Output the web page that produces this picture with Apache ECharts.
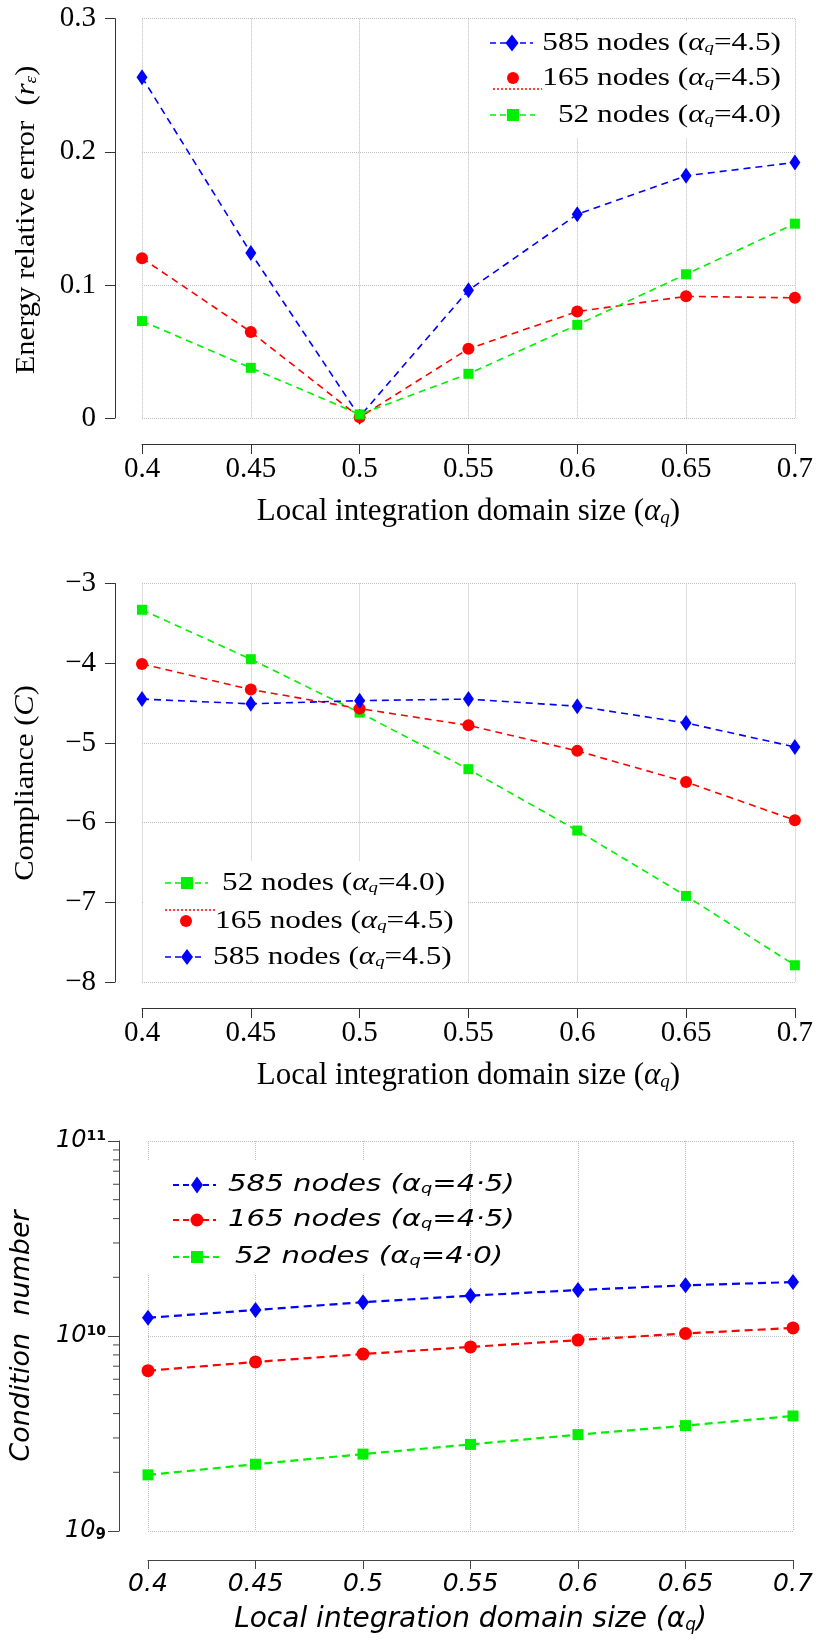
<!DOCTYPE html>
<html><head><meta charset="utf-8">
<script src="https://cdn.jsdelivr.net/npm/echarts@6/dist/echarts.min.js"></script>
<style>html,body{margin:0;padding:0;background:#fff}#c{width:816px;height:1640px}</style>
</head><body><div id="c"></div>
<script>
// ---------- data ----------
const xValues = [0.4, 0.45, 0.5, 0.55, 0.6, 0.65, 0.7];
const xTickLabels = ['0.4', '0.45', '0.5', '0.55', '0.6', '0.65', '0.7'];

// Panel 1: energy relative error
const err585 = [0.256, 0.124, 0.001, 0.096, 0.153, 0.182, 0.192];
const err165 = [0.120, 0.0647, 0.0005, 0.052, 0.080, 0.0914, 0.0903];
const err52  = [0.0728, 0.0377, 0.0027, 0.0332, 0.070, 0.108, 0.146];
const errTickLabels = ['0', '0.1', '0.2', '0.3'];

// Panel 2: compliance
const comp52  = [-3.33, -3.95, -4.62, -5.33, -6.10, -6.92, -7.79];
const comp165 = [-4.01, -4.33, -4.57, -4.78, -5.10, -5.49, -5.97];
const comp585 = [-4.45, -4.51, -4.47, -4.45, -4.54, -4.75, -5.05];

// Panel 3: condition number
const cond585 = [1.24e10, 1.36e10, 1.49e10, 1.61e10, 1.72e10, 1.82e10, 1.89e10];
const cond165 = [6.64e9, 7.36e9, 8.08e9, 8.79e9, 9.53e9, 1.03e10, 1.10e10];
const cond52  = [1.94e9, 2.20e9, 2.48e9, 2.78e9, 3.12e9, 3.47e9, 3.89e9];
const condMinorTicks = [2e9, 3e9, 4e9, 5e9, 6e9, 7e9, 8e9, 9e9, 2e10, 3e10, 4e10, 5e10, 6e10, 7e10, 8e10, 9e10];

const names = {
  n585: '585 nodes (αq=4.5)',
  n165: '165 nodes (αq=4.5)',
  n52: '52 nodes (αq=4.0)'
};

// ---------- style ----------
const SERIF = "'Liberation Serif', 'DejaVu Serif', serif";
const COMIC = "'DejaVu Sans', sans-serif";
const BLUE = '#0000ff', RED = '#ff0000', GREEN = '#00f000';
const AXIS = '#333';
const GRIDC = '#bdbdbd';

const chart = echarts.init(document.getElementById('c'), null, { renderer: 'canvas', width: 816, height: 1640 });

function xLabel(v) { return xTickLabels[Math.round((v - xValues[0]) / 0.05)]; }
function pairs(arr) { return xValues.map((x, i) => [x, arr[i]]); }

function ser(name, idx, arr, color, symbol, size, width, dash) {
  return {
    type: 'line', name: name, xAxisIndex: idx, yAxisIndex: idx,
    data: pairs(arr), symbol: symbol, symbolSize: size, showSymbol: true,
    lineStyle: { color: color, width: width, type: dash },
    itemStyle: { color: color }, animation: false, silent: true
  };
}

const serifRich = {
  a: { fontFamily: SERIF, fontStyle: 'italic', fontSize: 31, color: '#000' },
  q: { fontFamily: SERIF, fontStyle: 'italic', fontSize: 19, color: '#000', verticalAlign: 'bottom', lineHeight: 12 }
};

function serifX(idx) {
  return {
    gridIndex: idx, type: 'value', min: 0.4, max: 0.7, interval: 0.05, offset: 26,
    axisLine: { show: true, onZero: false, lineStyle: { color: AXIS, width: 1 } },
    axisTick: { show: true, length: 10, lineStyle: { color: AXIS } },
    axisLabel: { formatter: xLabel, fontFamily: SERIF, fontSize: 29, color: '#000', margin: 11 },
    splitLine: { show: true, lineStyle: { color: GRIDC, type: 'dotted', width: 1 } },
    name: 'Local integration domain size ({a|α}{q|q})', nameLocation: 'middle', nameGap: 52,
    nameTextStyle: { fontFamily: SERIF, fontSize: 31, color: '#000', rich: serifRich }
  };
}

const comicRich = {
  a: { fontFamily: COMIC, fontStyle: 'italic', fontSize: 28, color: '#000' },
  q: { fontFamily: COMIC, fontStyle: 'italic', fontSize: 17, color: '#000', verticalAlign: 'bottom', lineHeight: 11 }
};

const option = {
  backgroundColor: '#fff',
  animation: false,
  grid: [
    { left: 142, top: 18.7, width: 656, height: 399.3 },
    { left: 142, top: 583.5, width: 656, height: 398.5 },
    { left: 146, top: 1141, width: 647, height: 390 }
  ],
  xAxis: [
    serifX(0),
    serifX(1),
    {
      gridIndex: 2, type: 'value', min: 0.4, max: 0.7, interval: 0.05, offset: 29,
      axisLine: { show: true, onZero: false, lineStyle: { color: '#444', width: 1 } },
      axisTick: { show: true, length: 9, lineStyle: { color: '#444' } },
      axisLabel: { formatter: xLabel, fontFamily: COMIC, fontStyle: 'italic', fontSize: 25, color: '#000', margin: 12 },
      splitLine: { show: true, lineStyle: { color: GRIDC, type: 'dotted', width: 1 } },
      name: 'Local integration domain size ({a|α}{q|q})', nameLocation: 'middle', nameGap: 46,
      nameTextStyle: { fontFamily: COMIC, fontStyle: 'italic', fontSize: 28, color: '#000', rich: comicRich }
    }
  ],
  yAxis: [
    {
      gridIndex: 0, type: 'value', min: 0, max: 0.3, interval: 0.1, offset: 27,
      axisLine: { show: true, onZero: false, lineStyle: { color: AXIS, width: 1 } },
      axisTick: { show: true, length: 10, lineStyle: { color: AXIS } },
      axisLabel: { formatter: v => errTickLabels[Math.round(v * 10)], fontFamily: SERIF, fontSize: 29, color: '#000', margin: 19 },
      splitLine: { show: true, lineStyle: { color: GRIDC, type: 'dotted', width: 1 } }
    },
    {
      gridIndex: 1, type: 'value', min: -8, max: -3, interval: 1, offset: 27,
      axisLine: { show: true, onZero: false, lineStyle: { color: AXIS, width: 1 } },
      axisTick: { show: true, length: 10, lineStyle: { color: AXIS } },
      axisLabel: { formatter: v => (v < 0 ? '\u2212' + Math.abs(v) : String(v)), fontFamily: SERIF, fontSize: 29, color: '#000', margin: 19 },
      splitLine: { show: true, lineStyle: { color: GRIDC, type: 'dotted', width: 1 } }
    },
    {
      gridIndex: 2, type: 'log', logBase: 10, min: 1e9, max: 1e11, offset: 29,
      axisLine: { show: true, onZero: false, lineStyle: { color: '#444', width: 1 } },
      axisTick: { show: true, length: 11, lineStyle: { color: '#444' } },
      axisLabel: {
        formatter: v => {
          const e = Math.round(Math.log10(v));
          return e === 9 ? '{b|10}{d|9}' : '{b|10}{s|' + e + '}';
        },
        margin: 13,
        rich: {
          b: { fontFamily: COMIC, fontStyle: 'italic', fontSize: 24, color: '#000' },
          s: { fontFamily: COMIC, fontWeight: 'bold', fontSize: 14, color: '#000', verticalAlign: 'top', lineHeight: 12 },
          d: { fontFamily: COMIC, fontWeight: 'bold', fontSize: 15, color: '#000', verticalAlign: 'bottom', lineHeight: 14 }
        }
      },
      splitLine: { show: true, lineStyle: { color: GRIDC, type: 'dotted', width: 1 } },
      name: 'Condition  number', nameLocation: 'middle', nameRotate: 90, nameGap: 84,
      nameTextStyle: { fontFamily: COMIC, fontStyle: 'italic', fontSize: 27, color: '#000' }
    }
  ],
  series: [
    ser(names.n585, 0, err585, BLUE, 'diamond', [11, 16], 1.6, [7, 5]),
    ser(names.n165, 0, err165, RED, 'circle', 12, 1.6, [7, 5]),
    ser(names.n52, 0, err52, GREEN, 'rect', 10, 1.6, [7, 5]),
    ser(names.n52, 1, comp52, GREEN, 'rect', 10, 1.6, [7, 5]),
    ser(names.n165, 1, comp165, RED, 'circle', 12, 1.6, [7, 5]),
    ser(names.n585, 1, comp585, BLUE, 'diamond', [11, 16], 1.6, [7, 5]),
    ser(names.n585, 2, cond585, BLUE, 'diamond', [12, 16], 2.2, [8, 5]),
    ser(names.n165, 2, cond165, RED, 'circle', 13, 2.2, [8, 5]),
    ser(names.n52, 2, cond52, GREEN, 'rect', 11, 2.2, [8, 5]),
    {
      // logarithmic minor ticks of the condition-number axis, placed through the log scale
      type: 'custom', xAxisIndex: 2, yAxisIndex: 2, silent: true, animation: false, clip: false,
      data: condMinorTicks.map(v => [xValues[0], v]),
      renderItem: function (params, api) {
        const p = api.coord([api.value(0), api.value(1)]);
        const ax = p[0] - 29;
        return { type: 'line', shape: { x1: ax - 6, y1: p[1], x2: ax, y2: p[1] }, style: { stroke: '#444', lineWidth: 1 } };
      }
    }
  ],
  graphic: []
};

// ---------- legends and y titles (hand-laid like the original) ----------
const G = [];
function bgRect(x, y, w, h) {
  G.push({ type: 'rect', z: 1, silent: true, shape: { x: x, y: y, width: w, height: h }, style: { fill: '#fff' } });
}
function seg(x1, x2, y, color, dash, width) {
  G.push({ type: 'line', z: 10, silent: true, shape: { x1: x1, y1: y, x2: x2, y2: y }, style: { stroke: color, lineWidth: width || 1.6, lineDash: dash } });
}
function mark(kind, x, y, color, w, h) {
  if (kind === 'diamond') {
    G.push({ type: 'polygon', z: 11, silent: true, shape: { points: [[x, y - h / 2], [x + w / 2, y], [x, y + h / 2], [x - w / 2, y]] }, style: { fill: color } });
  } else if (kind === 'circle') {
    G.push({ type: 'circle', z: 11, silent: true, shape: { cx: x, cy: y, r: w / 2 }, style: { fill: color } });
  } else {
    G.push({ type: 'rect', z: 11, silent: true, shape: { x: x - w / 2, y: y - h / 2, width: w, height: h }, style: { fill: color } });
  }
}
function serifLabel(x, y, main, val, align) {
  G.push({
    type: 'text', z: 12, silent: true, x: x, y: y, scaleX: 1.25,
    style: {
      text: main + ' ({a|α}{q|q}=' + val + ')', fill: '#000', fontFamily: SERIF, fontSize: 25,
      align: align, verticalAlign: 'middle',
      rich: {
        a: { fontFamily: SERIF, fontStyle: 'italic', fontSize: 25, fill: '#000' },
        q: { fontFamily: SERIF, fontStyle: 'italic', fontSize: 15, fill: '#000', verticalAlign: 'bottom', lineHeight: 10 }
      }
    }
  });
}
function comicLabel(x, y, main, val) {
  G.push({
    type: 'text', z: 12, silent: true, x: x, y: y, scaleX: 1.27,
    style: {
      text: main + ' (α{q|q}=' + val + ')', fill: '#000', fontFamily: COMIC, fontStyle: 'italic', fontSize: 23,
      align: 'left', verticalAlign: 'middle',
      rich: {
        q: { fontFamily: COMIC, fontStyle: 'italic', fontSize: 14, fill: '#000', verticalAlign: 'bottom', lineHeight: 9 }
      }
    }
  });
}
function yTitle(cx, cy, text, rich) {
  G.push({
    type: 'text', z: 12, silent: true, x: cx, y: cy, rotation: Math.PI / 2, scaleX: 1.13,
    style: { text: text, fill: '#000', fontFamily: SERIF, fontSize: 27, align: 'center', verticalAlign: 'middle', rich: rich }
  });
}

// y-axis titles (serif panels)
yTitle(27, 220, 'Energy relative error  ({r|r}{e|ε})', {
  r: { fontFamily: SERIF, fontStyle: 'italic', fontSize: 27, fill: '#000' },
  e: { fontFamily: SERIF, fontStyle: 'italic', fontSize: 17, fill: '#000', verticalAlign: 'bottom', lineHeight: 11 }
});
yTitle(26, 783, 'Compliance ({c|C})', {
  c: { fontFamily: SERIF, fontStyle: 'italic', fontSize: 27, fill: '#000' }
});

// Panel 1 legend
bgRect(472, 21, 323, 117);
seg(490, 533, 43, BLUE, [6, 4]); mark('diamond', 512, 43, BLUE, 13, 17); serifLabel(781, 43, '585 nodes', '4.5', 'right');
seg(493, 542, 89, RED, [2, 2], 1.5); mark('circle', 513, 78, RED, 12, 12); serifLabel(781, 78, '165 nodes', '4.5', 'right');
seg(490, 535, 115, GREEN, [6, 4]); mark('rect', 513, 115, GREEN, 12, 12); serifLabel(781, 115, '52 nodes', '4.0', 'right');

// Panel 2 legend
bgRect(143.5, 861, 324, 119.5);
seg(165, 208, 883, GREEN, [6, 4]); mark('rect', 187, 883, GREEN, 12, 12); serifLabel(222, 883, '52 nodes', '4.0', 'left');
seg(165, 215, 910, RED, [2, 2], 1.5); mark('circle', 186, 921, RED, 12, 12); serifLabel(215, 921, '165 nodes', '4.5', 'left');
seg(165, 205, 957, BLUE, [6, 4]); mark('diamond', 187, 957, BLUE, 12, 16); serifLabel(213, 957, '585 nodes', '4.5', 'left');

// Panel 3 legend
bgRect(148, 1160, 318, 115);
seg(173, 216, 1185, BLUE, [6, 4], 2); mark('diamond', 197, 1185, BLUE, 12, 17); comicLabel(228, 1185, '585 nodes', '4·5');
seg(173, 216, 1220, RED, [6, 4], 2); mark('circle', 197, 1220, RED, 13, 13); comicLabel(228, 1220, '165 nodes', '4·5');
seg(173, 219, 1257, GREEN, [6, 4], 2); mark('rect', 197, 1257, GREEN, 12, 12); comicLabel(235, 1257, '52 nodes', '4·0');

option.graphic = G;
chart.setOption(option);
</script>
</body></html>
